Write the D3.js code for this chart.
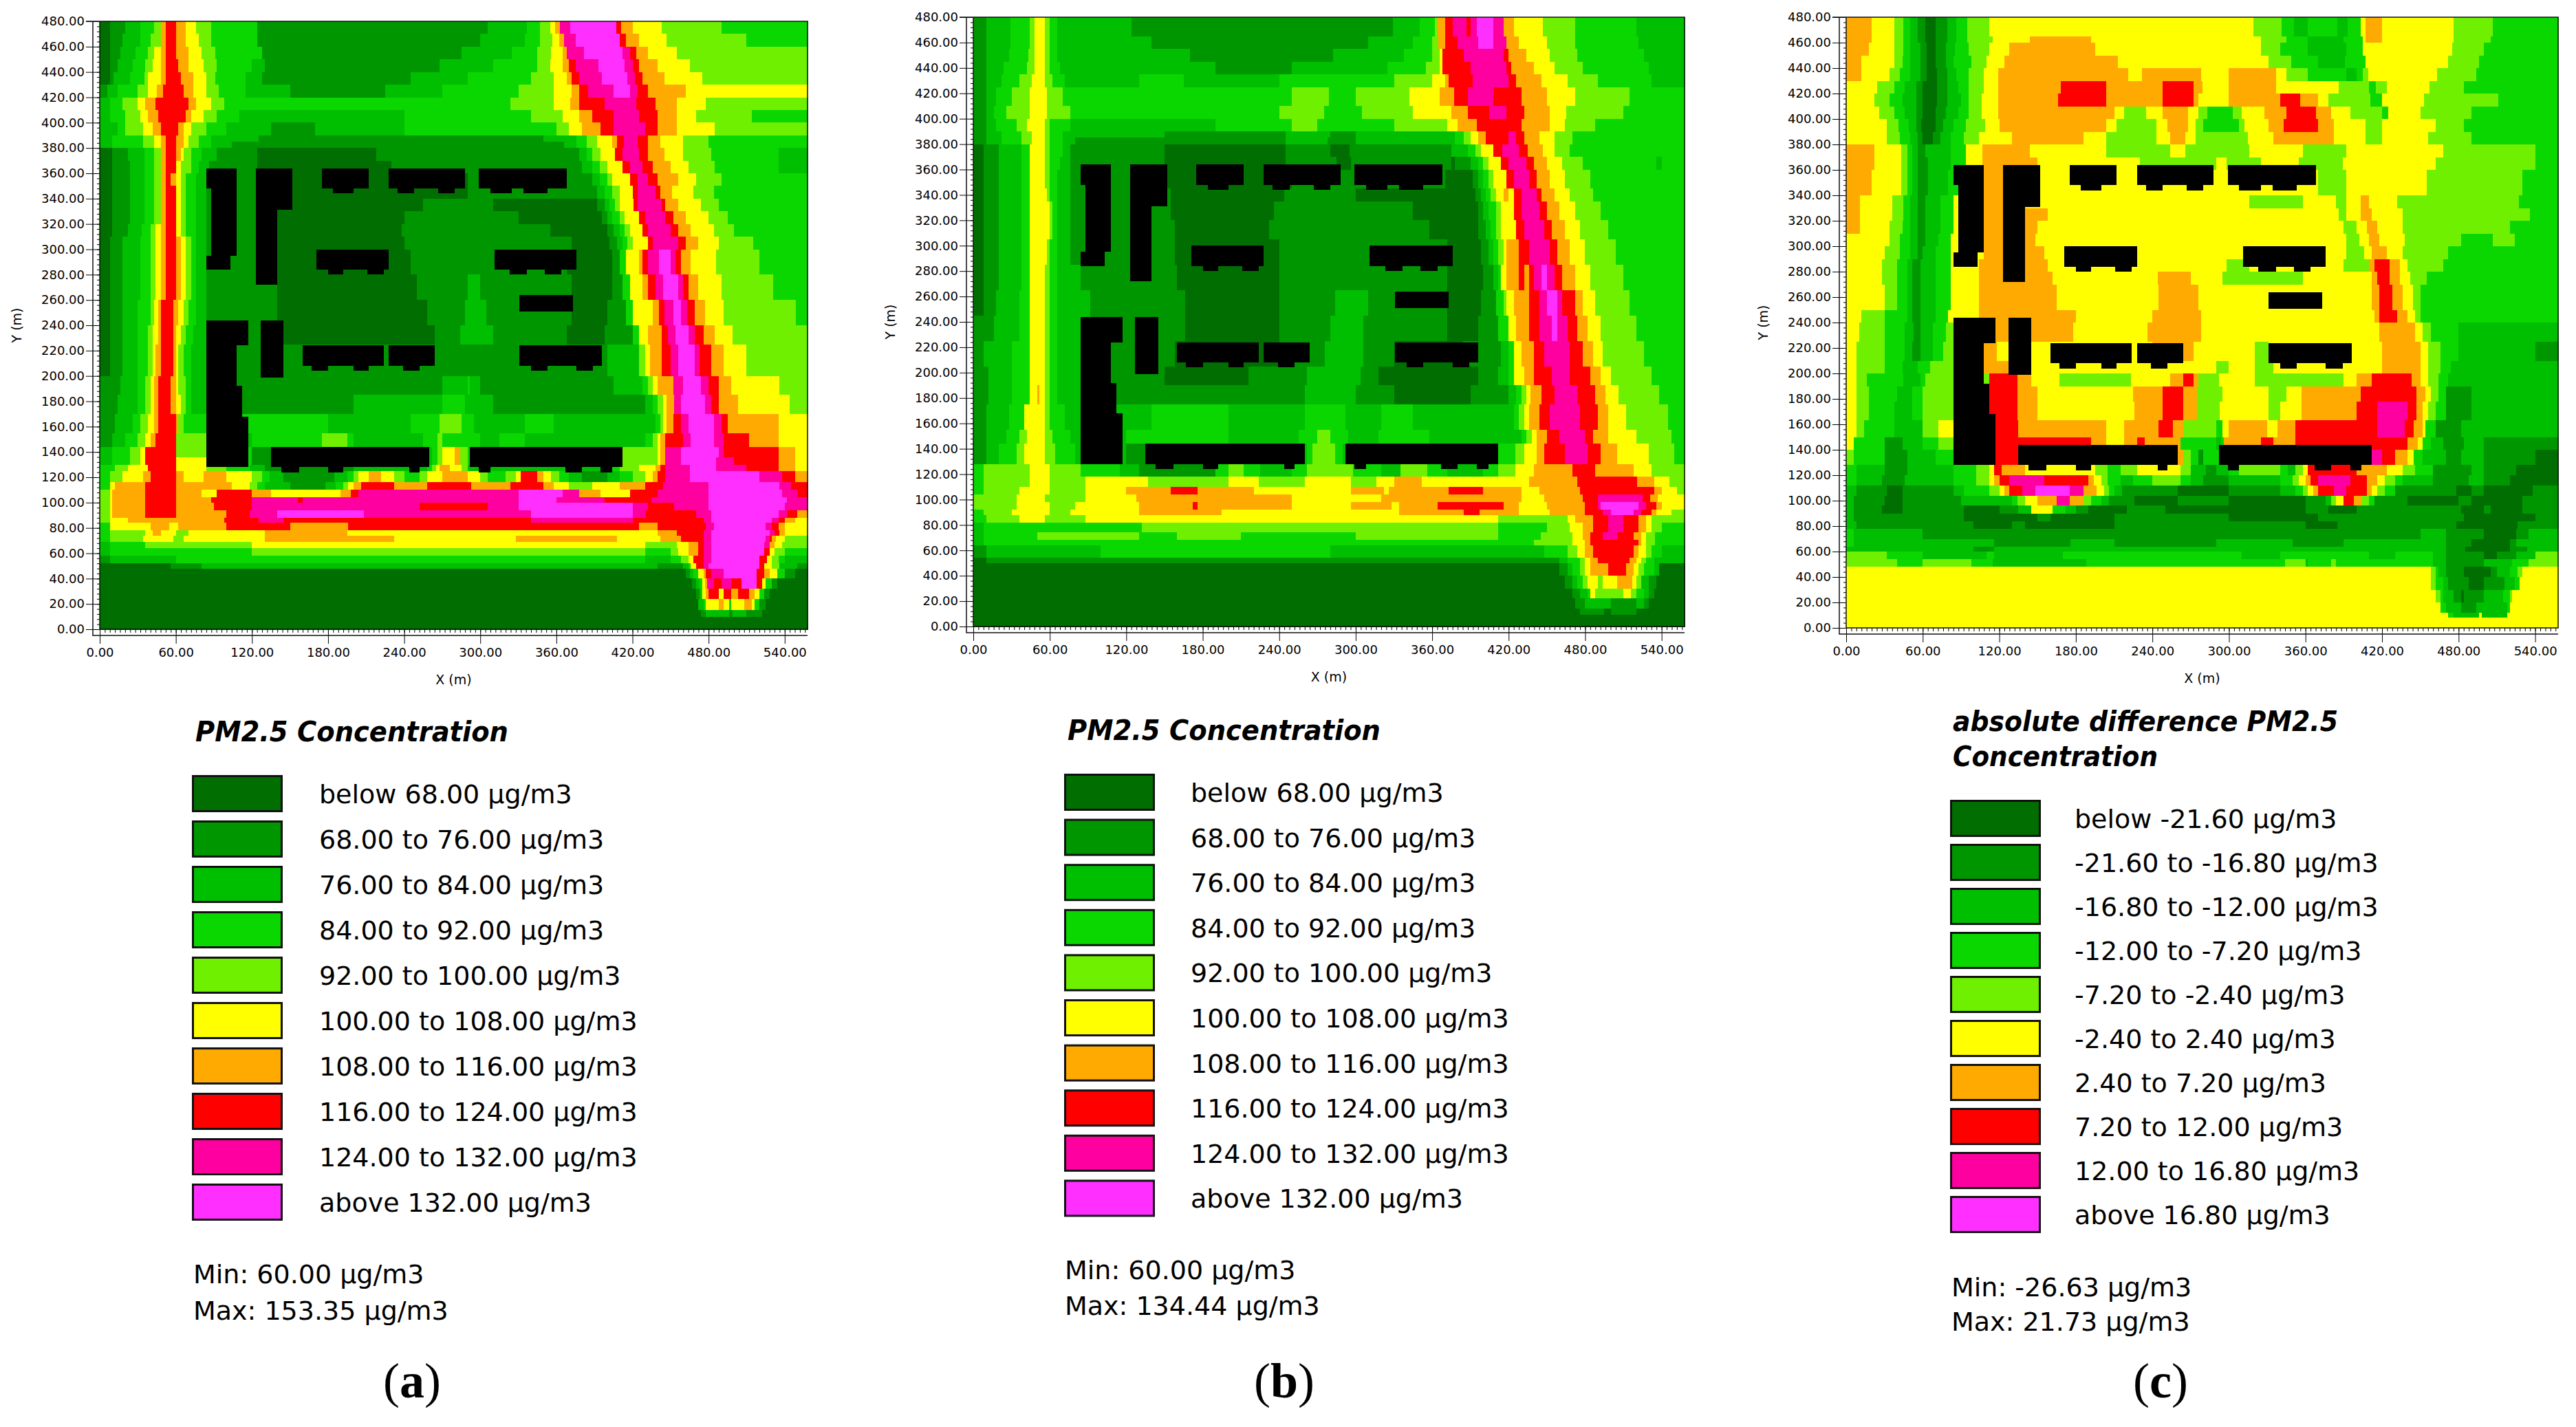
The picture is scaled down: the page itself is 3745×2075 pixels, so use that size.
<!DOCTYPE html>
<html>
<head>
<meta charset="utf-8">
<script src="https://cdn.jsdelivr.net/npm/d3@7"></script>
<style>
body { margin: 0; background: #fff; }
text { font-family: "DejaVu Sans", sans-serif; fill: #000; }
</style>
</head>
<body>
<svg id="chart" width="3745" height="2075"></svg>
<script>
var levelColors = ["#006e00", "#009600", "#00be00", "#0ad700", "#6ef000", "#ffff00", "#ffaa00", "#ff0000", "#ff00a0", "#ff30ff"];

var legendAB = ["below 68.00 µg/m3", "68.00 to 76.00 µg/m3", "76.00 to 84.00 µg/m3", "84.00 to 92.00 µg/m3", "92.00 to 100.00 µg/m3", "100.00 to 108.00 µg/m3", "108.00 to 116.00 µg/m3", "116.00 to 124.00 µg/m3", "124.00 to 132.00 µg/m3", "above 132.00 µg/m3"];
var legendC = ["below -21.60 µg/m3", "-21.60 to -16.80 µg/m3", "-16.80 to -12.00 µg/m3", "-12.00 to -7.20 µg/m3", "-7.20 to -2.40 µg/m3", "-2.40 to 2.40 µg/m3", "2.40 to 7.20 µg/m3", "7.20 to 12.00 µg/m3", "12.00 to 16.80 µg/m3", "above 16.80 µg/m3"];

var xTicks = [0, 60, 120, 180, 240, 300, 360, 420, 480, 540];
var yTicks = d3.range(0, 481, 20);

// building footprints in metres: x from, x to, y top, y bottom
var buildings = [
  [84,108,364,348],[88,108,348,295],[84,103,295,284],
  [123,152,364,331],[123,140,331,272],
  [175,212,364,348],[184,200,348,344],
  [228,288,364,348],[235,248,348,344],[267,280,348,344],
  [299,368,364,348],[308,325,348,344],[334,353,348,344],
  [171,228,300,284],[180,192,284,280],[211,224,284,280],
  [311,376,300,284],[323,337,284,280],[351,364,284,280],
  [331,373,264,251],
  [84,117,244,224],[84,108,224,192],[84,112,192,168],[84,117,168,128],
  [127,145,244,199],
  [160,224,224,208],[167,180,208,204],[200,212,208,204],
  [228,264,224,208],[239,252,208,204],
  [331,396,224,208],[340,353,208,204],[376,389,208,204],
  [135,260,144,128],[143,157,128,124],[180,192,128,124],[244,252,128,124],
  [292,412,144,128],[299,308,128,124],[367,380,128,124],[395,404,128,124]
];

// each row: top of band in metres, then level:right end of run in metres
var rowsA = [
[480,"0:8 1:20 2:32 3:43 4:48 6:52 7:60 6:68 5:76 4:88 3:124 1:306 2:337 3:347 4:355 5:359 6:363 8:371 9:407 7:411 6:420 5:443 4:490 3:558"],
[470,"0:8 1:18 2:32 3:40 4:48 6:52 7:60 6:68 5:78 4:88 3:124 1:300 2:335 3:347 4:357 5:362 6:366 8:375 9:410 7:415 6:425 5:447 4:510 3:558"],
[460,"0:8 1:16 2:28 3:38 4:43 5:48 6:52 7:60 6:70 5:80 4:91 3:128 1:285 2:325 3:345 4:356 5:365 6:368 8:382 9:412 8:418 7:423 6:432 5:455 4:558"],
[450,"0:8 1:14 2:26 3:36 4:42 5:48 6:52 7:62 6:70 5:82 4:92 3:120 2:130 1:268 2:310 3:345 4:355 5:365 6:370 7:375 8:393 9:414 8:420 7:425 6:440 5:465 4:558"],
[440,"0:8 1:11 2:24 3:35 4:38 5:48 6:52 7:64 6:74 5:84 4:91 3:115 2:128 1:245 2:290 3:340 4:358 5:368 6:372 7:378 8:396 9:416 8:422 7:428 6:445 5:475 4:558"],
[430,"1:6 2:14 3:30 4:38 5:45 6:50 7:66 6:74 5:84 4:94 3:115 2:150 1:225 2:270 3:330 4:358 5:372 6:378 7:385 8:405 9:418 8:424 7:432 6:462 5:558"],
[420,"2:8 3:18 4:30 5:36 6:44 7:70 6:76 5:88 4:98 3:324 4:358 5:371 6:378 7:398 8:423 7:438 6:455 5:478 4:558"],
[410,"2:8 3:20 4:32 5:38 6:46 7:68 6:72 5:82 4:92 3:110 2:240 3:340 4:365 5:378 6:388 7:405 8:425 7:440 6:455 5:470 4:514 3:558"],
[400,"2:14 3:20 4:34 5:42 6:48 7:62 6:66 5:72 4:84 3:100 2:135 1:170 2:240 3:360 4:370 5:380 6:395 7:405 8:430 7:440 6:455 5:485 4:558"],
[390,"2:10 3:34 4:43 5:48 6:52 7:60 6:66 5:70 4:78 3:88 2:125 1:350 2:376 3:384 4:392 5:404 6:408 7:413 8:424 7:432 6:442 5:460 4:480 3:558"],
[385,"2:10 3:34 4:43 5:48 6:52 7:60 6:66 5:70 4:78 3:88 2:104 1:366 2:376 3:384 4:392 5:404 6:408 7:413 8:424 7:432 6:442 5:460 4:480 3:558"],
[380,"0:10 1:22 2:35 3:43 4:48 6:52 7:60 6:64 5:66 4:72 3:80 2:92 1:124 0:218 1:378 2:384 3:388 4:395 5:406 7:412 8:425 7:432 6:445 5:460 4:482 3:535 2:558"],
[370,"0:10 1:24 2:35 3:43 4:48 6:52 7:60 5:64 4:72 3:78 2:86 1:124 0:230 1:380 2:388 3:394 4:400 5:412 7:418 8:428 7:436 6:450 5:464 4:485 3:535 2:558"],
[360,"0:10 1:24 2:35 3:43 4:48 6:52 7:56 6:60 5:64 4:68 3:76 2:84 1:124 0:290 1:388 2:394 3:400 4:404 5:418 7:424 8:432 7:440 6:456 5:470 4:490 3:558"],
[350,"0:10 1:24 2:35 3:43 4:48 6:52 7:60 5:64 4:68 3:76 2:84 1:125 0:290 1:392 2:398 3:404 4:410 5:420 7:424 8:438 7:442 6:451 5:468 4:484 3:558"],
[340,"0:10 1:24 2:35 3:43 4:48 6:52 7:60 5:64 4:68 3:76 2:84 1:125 0:255 1:310 0:392 1:398 2:402 3:406 4:410 5:421 7:424 8:443 7:446 6:456 5:474 4:488 3:558"],
[330,"0:10 1:24 2:35 3:43 4:48 6:52 7:60 5:64 4:68 3:76 2:84 1:125 0:240 1:330 0:396 1:400 2:404 3:410 4:414 5:425 7:430 8:446 7:452 6:462 5:480 4:495 3:558"],
[320,"0:10 1:22 2:33 3:40 4:44 5:48 6:52 7:60 5:64 4:68 3:76 2:84 1:125 0:238 1:355 0:400 1:405 2:410 3:414 4:418 5:428 7:432 8:450 7:456 6:466 5:484 4:500 3:558"],
[310,"0:8 1:18 2:32 3:40 4:44 5:48 6:52 7:60 6:64 5:68 4:72 3:76 2:84 1:125 0:240 1:372 0:402 1:408 2:412 3:416 4:420 5:432 7:436 8:456 7:462 6:472 5:488 4:515 3:558"],
[300,"0:8 1:18 2:32 3:40 4:44 5:48 6:52 7:60 6:64 5:68 4:72 3:76 2:84 1:136 0:245 1:368 0:404 1:410 3:415 5:425 6:428 7:432 8:441 9:450 8:454 7:458 6:466 5:486 4:520 3:558"],
[280,"0:8 1:18 2:32 3:40 4:44 5:48 6:52 7:60 6:64 5:68 4:72 3:76 2:84 1:140 0:250 1:290 2:300 1:372 0:404 1:412 3:418 5:428 6:432 7:438 8:444 9:456 8:460 7:464 6:472 5:490 4:531 3:558"],
[260,"0:8 1:18 2:30 3:40 4:43 5:46 6:48 7:58 6:62 5:66 4:70 3:76 2:84 1:140 0:258 1:288 2:305 1:372 0:400 1:415 3:420 5:436 6:441 7:445 8:452 9:458 8:463 7:469 6:477 5:492 4:549 3:558"],
[240,"0:8 1:18 2:30 3:38 4:42 5:46 6:48 7:58 6:60 5:64 4:68 3:74 2:84 1:145 0:264 1:284 2:310 1:368 0:398 1:420 3:425 5:432 6:443 7:448 8:454 9:464 8:469 7:476 6:485 5:499 4:558"],
[225,"0:8 1:18 2:30 3:38 4:42 5:44 6:48 7:58 6:60 5:62 4:66 3:72 2:84 1:400 2:425 4:430 5:434 6:443 7:450 8:456 9:469 8:473 7:482 6:492 5:510 4:558"],
[200,"1:16 2:30 3:36 4:40 5:43 6:46 7:56 6:60 5:62 4:68 3:72 2:84 1:270 2:290 3:292 2:300 1:405 2:428 3:432 4:436 5:440 6:452 8:460 9:474 8:480 7:488 6:498 5:536 4:558"],
[185,"1:14 2:30 3:36 4:40 5:43 6:46 7:56 6:60 5:64 4:68 3:72 2:84 1:200 2:270 3:288 2:310 1:430 2:436 3:440 4:444 5:447 6:453 8:458 9:477 8:482 7:488 6:503 5:544 4:558"],
[170,"1:12 2:26 3:32 4:38 5:43 6:46 7:60 6:62 4:66 3:84 2:112 3:180 2:245 3:268 4:285 3:295 2:335 3:358 2:438 3:442 4:444 5:447 6:452 7:458 8:464 9:484 8:490 7:495 6:535 5:558"],
[155,"1:10 2:20 3:30 4:36 5:40 6:44 7:60 4:84 3:100 2:120 3:175 4:195 3:200 2:255 3:266 4:270 3:300 2:315 3:335 2:430 3:436 4:440 5:442 6:446 7:460 8:466 9:484 8:492 7:512 6:535 5:558"],
[144,"2:10 3:24 4:32 5:36 7:60 4:84 3:120 1:135 2:262 3:266 4:270 5:280 6:284 4:290 3:412 4:440 5:442 6:446 8:458 9:488 8:492 7:535 6:548 5:558"],
[136,"2:10 3:24 4:32 5:36 7:60 5:84 3:120 1:135 2:262 3:266 4:270 5:280 6:284 4:290 3:412 4:440 5:442 6:446 8:458 9:486 8:500 7:535 6:548 5:558"],
[130,"3:12 4:22 5:38 7:60 5:84 4:100 3:118 2:130 1:200 2:258 3:262 4:265 5:268 6:276 5:285 4:290 2:395 3:410 4:425 5:438 6:442 7:446 8:465 9:486 8:510 7:535 6:548 5:558"],
[125,"3:8 4:18 5:34 6:40 7:60 6:66 5:82 6:100 5:120 4:128 3:134 2:145 1:185 2:195 3:200 4:204 5:212 6:222 5:232 4:240 3:252 4:258 5:270 6:290 5:300 4:306 3:320 4:328 5:332 7:345 6:350 5:356 4:362 3:370 2:380 1:400 2:410 3:420 4:430 5:436 6:440 7:446 8:465 9:520 8:538 7:548 6:558"],
[116,"3:8 5:12 6:36 7:60 6:104 5:118 4:124 3:130 2:150 1:178 2:186 3:192 4:196 5:200 6:206 7:232 6:258 7:293 6:324 7:350 6:358 5:370 4:388 5:410 6:430 7:444 8:480 9:536 8:545 7:558"],
[110,"4:8 5:10 6:36 7:60 6:80 5:92 7:120 6:135 5:190 6:198 7:204 8:330 9:365 8:378 6:395 5:418 7:440 8:480 9:538 8:550 7:558"],
[104,"4:8 5:10 6:36 7:60 6:88 7:120 8:156 7:160 8:330 9:360 8:398 7:435 8:480 9:542 8:558"],
[100,"4:8 5:10 6:36 7:60 6:90 7:120 8:252 7:306 8:330 9:420 8:432 7:453 8:480 9:540 8:558"],
[94,"4:8 5:10 6:36 7:60 6:100 7:118 8:140 9:208 8:340 9:420 8:430 7:470 8:482 9:535 8:542 7:550 6:558"],
[88,"4:8 5:22 6:98 7:125 8:145 7:340 8:420 7:476 8:482 9:530 8:535 7:540 6:548 5:558"],
[84,"3:8 5:40 6:55 5:62 6:100 7:150 6:196 7:425 6:440 7:478 8:484 9:525 8:530 7:535 6:540 5:558"],
[78,"3:8 4:36 5:42 6:48 5:60 4:70 5:130 6:195 5:440 6:455 7:476 8:482 9:528 8:532 7:536 6:540 5:558"],
[74,"3:8 4:34 5:58 4:66 5:130 6:232 5:328 6:408 5:442 6:458 7:476 8:482 9:525 8:528 7:530 6:533 5:540 4:558"],
[69,"2:8 3:36 4:120 5:430 4:455 5:464 6:472 7:476 8:482 9:524 8:528 6:532 5:538 4:558"],
[64,"2:8 3:120 4:430 3:450 4:456 5:464 6:472 7:476 8:482 9:524 7:528 5:532 4:540 3:558"],
[58,"1:8 2:60 3:430 2:450 3:458 4:464 5:468 7:476 8:482 9:520 7:526 5:530 4:535 3:540 2:558"],
[52,"0:56 1:80 2:440 1:460 2:464 3:466 5:470 7:476 8:480 9:520 7:524 5:530 4:536 2:550 1:558"],
[48,"0:462 1:465 2:468 3:472 5:476 6:478 7:482 8:492 9:518 7:524 6:528 5:534 3:540 1:548 0:558"],
[40,"0:467 1:470 2:473 3:475 5:477 6:479 8:484 7:490 8:498 7:506 9:518 7:522 5:525 3:530 1:534 0:558"],
[32,"0:470 1:473 2:474 3:475 5:478 6:480 7:488 5:492 7:498 6:503 7:512 6:516 5:520 3:524 1:528 0:558"],
[24,"0:472 2:476 3:478 5:488 6:492 5:496 3:498 5:508 6:514 5:516 3:520 1:525 0:558"],
[15,"0:474 1:478 2:496 1:499 2:510 1:522 0:558"],
[10,"0:558"]
];

var rowsB = [
[480,"1:10 2:29 3:44 4:48 5:56 4:60 3:66 2:124 1:329 2:350 3:362 4:364 6:370 7:376 8:387 7:390 8:395 9:408 8:416 6:424 5:447 4:472 3:520 2:558"],
[465,"1:10 2:29 3:44 4:48 5:56 4:60 3:66 2:140 1:310 2:345 3:360 4:365 6:370 7:380 8:396 9:408 8:418 6:428 5:450 4:472 3:522 2:558"],
[455,"1:10 2:28 3:43 4:48 5:56 4:60 3:66 2:170 1:282 2:338 3:360 4:366 5:368 7:385 8:416 7:420 6:434 5:452 4:474 3:526 2:558"],
[445,"1:10 2:24 3:42 4:48 5:56 4:60 3:68 2:190 1:250 2:325 3:355 4:366 5:368 7:390 8:418 7:422 6:440 5:456 4:478 3:530 2:558"],
[435,"1:10 2:22 3:36 4:46 5:56 4:62 3:72 2:130 3:165 2:240 3:330 4:360 5:370 6:373 7:392 8:420 7:426 6:446 5:466 4:490 3:532 2:558"],
[425,"1:10 2:18 3:30 4:44 5:58 4:70 3:250 4:279 3:300 4:342 5:366 6:377 7:388 8:408 7:430 6:450 5:472 4:515 3:558"],
[410,"1:10 2:16 3:26 4:44 5:58 4:76 3:240 4:275 3:305 4:345 5:375 6:388 7:405 8:418 7:432 6:452 5:465 4:510 3:558"],
[400,"1:10 2:18 3:34 4:42 5:56 4:60 3:76 2:190 3:250 4:270 3:330 4:372 5:380 6:395 7:430 6:452 5:464 4:488 3:558"],
[390,"1:10 2:22 3:38 4:46 5:56 4:60 3:70 2:150 1:245 2:280 1:300 2:378 3:385 4:390 5:396 6:402 7:420 8:426 7:432 6:444 5:456 4:470 3:558"],
[385,"1:10 2:22 3:38 4:46 5:56 4:60 3:70 2:80 1:245 2:278 1:300 2:378 3:385 4:390 5:396 6:402 7:420 8:426 7:432 6:444 5:456 4:470 3:558"],
[380,"0:8 1:20 2:38 3:44 5:56 4:60 3:70 2:76 1:150 0:245 1:280 0:295 1:375 2:388 3:394 4:398 5:408 7:415 8:428 7:435 6:447 5:456 4:468 3:558"],
[370,"0:8 1:20 2:38 3:44 5:56 4:60 3:68 2:76 1:150 0:245 1:285 0:296 1:375 0:378 1:390 2:396 3:400 4:404 5:414 7:420 8:434 7:440 6:450 5:462 4:478 3:536 2:540 3:558"],
[360,"0:8 1:20 2:38 3:44 5:56 4:60 3:66 2:76 1:152 0:250 1:370 0:392 1:396 2:400 3:404 4:408 5:418 7:424 8:436 7:442 6:452 5:464 4:484 3:558"],
[345,"0:8 1:20 2:38 3:44 5:58 4:60 3:66 2:76 1:155 0:244 1:300 0:394 1:398 2:402 3:406 4:410 5:416 6:420 5:424 7:430 8:442 7:446 6:456 5:468 4:486 3:558"],
[335,"0:8 1:20 2:38 3:44 5:60 4:62 3:66 2:76 1:155 0:236 1:345 0:396 1:400 2:404 3:410 4:414 5:424 7:430 8:444 7:450 6:460 5:472 4:492 3:558"],
[320,"0:8 1:20 2:38 3:44 5:60 4:62 3:66 2:76 1:158 0:232 1:358 0:396 1:402 2:406 3:410 4:414 5:426 7:432 8:448 7:454 6:464 5:476 4:498 3:558"],
[305,"0:8 1:20 2:38 3:44 5:58 4:60 3:66 2:76 1:158 0:240 1:372 0:398 1:404 2:408 3:412 4:416 5:418 6:428 7:436 8:452 7:458 6:468 5:480 4:504 3:558"],
[285,"0:8 1:20 2:38 3:44 5:56 4:60 3:66 2:84 1:160 0:240 1:372 0:400 1:408 2:412 3:414 5:418 6:428 7:432 6:436 7:440 8:446 9:450 8:456 7:462 6:472 5:484 4:510 3:558"],
[265,"0:8 1:18 2:36 3:44 5:56 4:60 3:66 2:92 1:166 0:240 1:284 2:310 1:372 0:398 1:410 3:416 4:418 5:424 6:436 7:444 8:450 9:458 8:462 7:472 6:478 5:488 4:515 3:558"],
[245,"1:16 2:36 3:44 5:56 4:60 3:66 2:92 1:166 0:240 1:280 2:306 1:372 0:396 1:412 3:420 5:426 6:436 7:444 8:454 9:458 8:466 7:474 6:482 5:492 4:520 3:558"],
[225,"1:8 2:30 3:44 5:56 4:60 3:66 2:84 1:158 0:240 1:276 2:306 1:330 0:384 1:414 2:420 3:424 5:430 6:440 7:448 8:468 7:478 6:486 5:494 4:526 3:558"],
[205,"1:12 2:30 3:44 5:56 4:60 3:66 2:84 1:150 0:216 1:262 2:304 1:318 0:396 1:412 2:420 3:424 5:432 6:440 7:454 8:468 7:484 6:492 5:500 4:532 3:558"],
[190,"1:12 2:30 3:44 5:50 6:52 5:56 4:60 3:66 2:110 1:260 2:300 1:330 0:390 1:420 2:426 3:430 4:434 5:437 6:446 7:456 8:474 7:488 6:496 5:506 4:538 3:558"],
[175,"1:10 2:28 3:40 5:56 4:60 3:72 2:140 3:200 2:260 3:292 2:320 3:345 2:424 3:428 4:432 5:436 6:444 7:452 8:476 7:490 6:498 5:512 4:545 3:558"],
[155,"1:10 2:26 3:36 4:42 5:56 4:62 3:76 2:120 3:200 2:255 3:270 4:280 3:294 2:318 3:358 2:430 3:434 4:438 5:442 6:450 7:460 8:480 7:486 6:498 5:520 4:548 3:558"],
[144,"1:10 2:20 3:34 4:40 5:56 4:64 3:80 2:120 1:136 2:262 3:266 4:284 3:290 2:412 3:425 4:432 5:442 6:448 7:464 8:482 7:492 6:505 5:530 4:550 3:558"],
[128,"3:8 4:44 5:60 4:84 3:115 2:130 1:190 3:200 4:212 3:225 2:250 3:262 4:298 3:320 2:335 4:356 3:372 2:400 3:412 4:425 5:440 6:470 7:488 6:518 5:532 4:558"],
[118,"3:8 4:44 5:60 4:88 5:137 4:200 5:224 4:260 5:296 4:316 5:330 6:352 5:436 6:474 7:521 6:534 5:546 4:558"],
[110,"3:8 4:36 5:60 4:88 5:120 6:155 7:176 6:220 5:296 6:322 5:326 6:373 7:400 6:430 5:444 6:476 7:534 6:540 5:552 4:558"],
[104,"4:34 5:56 4:88 5:128 6:250 5:320 6:430 5:448 6:478 7:490 8:525 7:531 6:537 5:558"],
[98,"4:34 5:60 4:80 5:130 6:172 7:176 6:250 5:296 6:328 5:334 6:364 7:416 6:428 5:450 6:480 7:490 8:492 9:522 8:528 7:536 6:540 5:558"],
[92,"3:8 4:30 5:60 4:76 5:130 6:195 5:334 6:385 7:397 6:428 5:452 6:480 7:494 8:500 9:518 8:524 7:532 6:536 5:548 4:558"],
[88,"3:10 4:36 5:56 4:88 5:412 4:466 5:472 6:486 7:498 8:510 7:522 6:528 5:532 4:558"],
[82,"2:8 3:132 4:412 3:450 4:468 5:478 6:486 7:498 8:510 7:522 6:528 5:532 4:540 3:558"],
[74,"2:8 3:50 4:130 3:160 4:210 3:300 4:412 3:445 4:470 5:478 6:484 7:494 8:505 7:518 6:524 5:528 4:535 3:558"],
[68,"2:8 3:440 4:470 5:480 6:484 7:522 6:524 5:528 4:535 3:558"],
[64,"1:10 2:100 3:280 2:448 3:466 4:474 5:480 6:486 7:518 6:522 5:528 4:532 3:540 2:558"],
[54,"0:10 1:460 2:466 3:476 4:480 5:484 6:490 7:515 6:520 5:524 4:528 3:534 2:558"],
[50,"0:460 1:466 2:470 3:476 4:480 5:484 6:498 7:512 6:518 5:522 4:526 3:534 2:538 0:558"],
[40,"0:464 1:470 2:474 3:478 4:482 5:490 4:494 5:505 6:517 5:520 4:524 2:530 1:536 0:558"],
[30,"0:470 1:476 2:482 3:484 5:488 4:510 5:516 4:520 3:526 2:530 1:534 0:558"],
[22,"0:472 1:480 2:500 1:520 2:526 1:530 0:558"],
[14,"0:476 1:495 0:500 1:520 0:558"],
[9,"0:558"]
];

var rowsC = [
[480,"6:20 5:38 4:45 3:50 2:56 1:62 0:70 1:79 2:86 3:95 4:112 5:319 4:341 3:351 2:362 3:385 2:393 3:403 5:407 6:420 5:476 4:507 3:558"],
[465,"6:20 5:38 4:45 3:50 2:56 1:62 0:70 1:79 2:86 3:95 4:115 5:144 6:192 5:325 4:345 3:362 2:390 3:405 5:407 6:420 5:476 4:505 3:558"],
[460,"6:18 5:38 4:45 3:50 2:58 1:63 0:70 1:78 2:85 3:96 4:112 5:128 6:195 5:325 4:340 3:362 2:392 3:405 5:475 4:500 3:558"],
[450,"6:12 5:38 4:44 3:50 2:58 1:63 0:70 1:78 2:84 3:98 4:110 5:124 6:213 5:331 4:349 3:370 2:391 3:407 5:472 4:496 3:558"],
[440,"6:12 5:34 4:42 3:50 2:58 1:63 0:71 1:79 2:86 3:96 4:108 5:119 6:221 5:232 6:278 5:300 6:337 5:345 4:362 3:392 2:400 3:405 4:409 5:463 4:494 3:558"],
[430,"5:24 4:38 3:46 2:55 1:60 0:71 1:79 2:88 3:96 4:108 5:119 6:168 7:204 6:248 7:272 6:279 5:300 6:337 5:386 4:410 3:415 4:424 5:457 4:484 3:558"],
[420,"5:22 4:34 3:44 2:55 1:60 0:71 1:79 2:90 3:96 4:106 5:119 6:166 7:204 6:248 7:272 6:276 5:300 6:340 7:356 6:370 5:378 4:411 3:420 5:453 4:511 3:558"],
[410,"5:26 4:38 3:46 2:55 1:60 0:70 1:78 2:88 3:96 4:106 5:119 6:210 5:218 4:235 5:248 6:268 5:276 4:283 3:303 4:310 5:328 6:345 7:368 6:380 5:395 4:420 3:425 5:450 4:490 3:558"],
[400,"5:32 4:41 3:49 2:55 1:59 0:70 1:76 2:84 3:94 4:109 5:120 6:204 5:212 4:243 5:252 6:268 5:274 4:280 3:308 4:312 5:331 6:343 7:370 6:382 5:407 4:420 5:462 4:484 3:558"],
[390,"5:32 4:42 3:50 2:56 1:60 0:68 1:74 2:82 3:92 4:104 5:130 6:186 5:204 4:243 5:254 6:266 5:274 4:315 5:335 6:382 5:407 4:420 5:456 4:490 3:558"],
[380,"6:22 5:43 4:48 3:52 2:56 1:62 2:82 3:94 5:107 6:144 5:204 4:254 5:266 4:316 5:358 4:392 5:468 4:540 3:558"],
[370,"6:22 5:43 4:48 3:52 2:56 1:64 2:82 3:94 5:107 6:150 5:230 4:290 5:298 4:325 5:355 4:389 5:462 4:540 3:558"],
[360,"6:20 5:43 4:48 3:52 2:56 1:64 2:80 3:88 5:107 6:123 5:370 4:392 5:455 4:530 3:558"],
[340,"6:11 5:36 4:45 3:50 2:56 1:62 2:74 3:84 5:108 6:123 5:316 4:358 5:384 4:392 5:403 6:410 5:432 4:527 3:558"],
[330,"6:11 5:36 4:45 3:50 2:56 1:62 2:74 3:84 5:108 6:158 5:386 4:392 5:403 6:412 5:436 4:536 3:558"],
[320,"6:11 5:34 4:44 3:50 2:56 1:62 2:74 3:84 5:108 6:150 5:390 4:400 5:408 6:416 5:436 4:520 3:558"],
[310,"5:34 4:42 3:50 2:56 1:62 2:72 3:82 5:108 6:148 5:392 4:402 5:410 6:418 5:438 4:482 3:507 4:524 3:558"],
[300,"5:30 4:42 3:50 2:56 1:60 2:70 3:82 5:108 6:155 5:392 4:406 5:412 6:424 5:436 4:472 3:558"],
[290,"5:28 4:40 3:48 2:52 1:58 2:70 3:82 5:104 6:158 5:298 4:316 5:390 4:410 6:414 7:426 6:434 5:440 4:468 3:558"],
[280,"5:28 4:40 3:48 2:52 1:58 2:70 3:82 5:104 6:162 5:244 6:270 5:295 4:358 5:412 6:416 7:426 6:434 5:442 4:455 3:558"],
[270,"5:30 4:40 3:48 2:52 1:58 2:70 3:82 5:104 6:165 5:245 6:276 5:412 6:418 7:428 6:436 5:444 4:450 3:558"],
[250,"5:12 4:30 3:48 2:52 1:58 2:70 3:80 5:104 6:180 5:240 6:278 5:414 6:418 7:432 6:440 5:446 4:450 3:558"],
[240,"5:10 4:30 3:46 2:53 1:58 2:68 3:78 4:84 6:178 5:236 6:278 5:418 6:446 5:452 4:458 3:480 2:558"],
[225,"5:8 4:30 3:46 2:52 1:58 2:68 3:76 4:84 6:118 5:240 6:272 5:320 4:331 5:420 6:450 5:456 4:466 3:480 2:540 1:558"],
[210,"5:8 4:30 3:44 2:56 3:66 4:84 6:127 5:290 4:300 5:320 4:335 5:420 6:450 5:456 4:466 3:474 2:558"],
[200,"5:8 4:16 3:45 2:58 3:62 4:112 7:134 6:145 5:167 4:223 5:254 6:264 7:272 6:276 4:292 5:320 4:390 5:400 6:412 7:443 6:450 5:456 4:464 3:472 2:558"],
[190,"5:8 4:18 3:40 2:52 3:60 4:112 7:134 6:150 5:225 6:248 7:264 6:275 4:295 5:331 4:345 5:357 6:403 7:447 6:454 5:458 4:464 3:470 1:490 2:558"],
[178,"5:8 4:18 3:38 2:52 3:60 4:112 7:134 6:150 5:226 6:248 7:264 6:275 4:293 5:331 4:340 5:357 6:400 7:416 8:440 7:447 6:452 5:456 4:462 3:470 1:490 2:558"],
[163,"5:8 4:14 3:38 2:60 4:72 5:112 7:135 6:204 5:218 6:245 7:256 6:264 4:290 3:295 5:300 6:330 5:338 6:352 7:416 8:438 7:445 6:452 5:454 3:462 1:482 2:558"],
[150,"5:6 3:30 1:44 2:60 3:72 4:112 7:192 6:204 5:218 6:228 7:234 6:262 3:290 2:294 3:296 6:325 7:335 6:352 7:440 6:448 5:452 3:458 2:468 1:484 2:500 1:558"],
[140,"4:6 3:30 1:48 2:70 3:112 7:135 6:264 4:270 3:276 1:280 3:292 7:412 8:420 7:430 6:440 5:445 3:452 2:470 1:482 2:500 1:540 0:558"],
[128,"3:8 2:30 1:48 2:84 3:102 4:112 5:116 7:122 6:140 5:195 4:205 3:215 4:228 5:262 4:270 2:282 1:290 2:300 3:308 4:340 3:346 2:352 4:358 5:362 7:400 6:424 5:436 4:446 3:460 1:490 2:500 1:525 0:558"],
[120,"3:8 2:28 1:46 2:84 3:102 4:112 5:116 6:120 7:128 8:155 7:190 6:194 5:200 4:205 3:215 2:225 3:240 4:262 3:270 2:280 1:300 2:340 3:350 4:355 5:360 6:364 7:370 8:395 7:408 6:416 5:422 4:430 3:436 2:460 1:488 2:500 1:520 0:558"],
[112,"2:8 1:32 0:44 1:84 2:92 3:112 4:120 5:124 6:128 7:138 8:148 9:175 8:186 6:196 5:202 4:206 3:210 2:216 1:260 0:300 1:340 2:352 3:358 4:362 5:366 6:370 7:382 8:392 7:408 6:412 5:416 4:422 3:430 1:478 0:490 1:500 0:538 1:558"],
[104,"2:6 1:30 0:44 1:90 2:130 3:134 4:140 5:150 6:165 8:175 6:186 4:192 3:200 2:206 1:226 0:260 1:300 0:360 1:376 2:380 4:384 5:390 7:398 6:404 4:410 3:414 1:440 0:480 1:490 0:530 1:558"],
[96,"2:6 1:28 0:44 1:92 0:120 1:135 2:145 5:162 3:172 2:180 1:190 0:220 1:250 0:360 1:378 0:400 1:482 0:500 1:505 0:530 1:558"],
[90,"2:6 1:92 0:150 1:160 0:210 1:300 0:370 1:484 0:540 1:558"],
[84,"2:8 1:100 0:130 1:140 0:210 1:360 0:385 1:478 0:526 1:558"],
[78,"3:6 2:60 1:450 2:470 1:500 0:525 1:535 2:558"],
[70,"3:6 2:116 1:176 2:210 1:290 2:350 1:390 2:470 1:490 0:520 1:525 2:558"],
[64,"2:100 1:116 2:470 1:485 0:520 1:534 2:558"],
[60,"4:32 3:60 2:110 3:116 2:170 3:310 2:340 3:410 2:430 3:460 2:470 1:500 0:510 1:525 2:540 4:558"],
[54,"4:40 3:60 4:98 3:115 2:188 3:344 4:360 2:362 3:380 4:384 3:460 2:470 1:500 2:522 3:535 4:558"],
[48,"5:458 4:462 3:464 2:470 1:484 0:505 1:510 2:520 3:526 4:530 5:558"],
[40,"5:458 4:462 3:468 2:472 1:488 0:500 1:516 2:524 3:528 5:558"],
[30,"5:462 4:466 3:468 2:476 1:482 0:484 1:500 2:515 3:520 4:522 5:558"],
[20,"5:466 3:470 2:482 1:494 2:518 3:520 5:558"],
[12,"5:472 3:476 2:496 5:498 2:518 5:558"],
[8,"5:558"]
];

// page layout of the three panels
var panels = [
  { rows: rowsA, x0: 145, xEnd: 1174, yTop: 31, yBot: 915, legend: legendAB, title: ["PM2.5 Concentration"], titleX: 284, titleY: 1064, swatchX: 279, swatchY: 1127, step: 66, textX: 464, minmaxX: 281, minY: 1866, maxY: 1919, min: "Min: 60.00 µg/m3", max: "Max: 153.35 µg/m3", tag: "a", tagX: 599 },
  { rows: rowsB, x0: 1415, xEnd: 2449, yTop: 25, yBot: 911, legend: legendAB, title: ["PM2.5 Concentration"], titleX: 1552, titleY: 1062, swatchX: 1547, swatchY: 1125, step: 65.6, textX: 1731, minmaxX: 1548, minY: 1860, maxY: 1912, min: "Min: 60.00 µg/m3", max: "Max: 134.44 µg/m3", tag: "b", tagX: 1867 },
  { rows: rowsC, x0: 2684, xEnd: 3719, yTop: 25, yBot: 913, legend: legendC, title: ["absolute difference PM2.5", "Concentration"], titleX: 2839, titleY: 1049, swatchX: 2835, swatchY: 1163, step: 64, textX: 3016, minmaxX: 2837, minY: 1885, maxY: 1935, min: "Min: -26.63 µg/m3", max: "Max: 21.73 µg/m3", tag: "c", tagX: 3141 }
];

var svg = d3.select("#chart");
var tickFormat = d3.format(".2f");

function parseRow(str) {
  return str.split(" ").map(function(d) {
    var p = d.split(":");
    return { level: +p[0], end: +p[1] };
  });
}

panels.forEach(function(p) {
  var x = d3.scaleLinear().domain([0, 558]).range([p.x0, p.xEnd]);
  var y = d3.scaleLinear().domain([0, 480]).range([p.yBot, p.yTop]);
  var color = d3.scaleOrdinal().domain(d3.range(10)).range(levelColors);
  var g = svg.append("g");

  // one rect per run per band
  p.rows.forEach(function(row, i) {
    var next = i + 1 < p.rows.length ? p.rows[i + 1][0] : 0;
    var prev = 0;
    var runs = parseRow(row[1]).map(function(r) {
      var out = { level: r.level, from: prev, to: r.end };
      prev = r.end;
      return out;
    });
    g.append("g").selectAll("rect").data(runs).enter().append("rect")
      .attr("x", function(d) { return x(d.from); })
      .attr("y", y(row[0]))
      .attr("width", function(d) { return x(d.to) - x(d.from) + 0.5; })
      .attr("height", y(next) - y(row[0]) + 0.5)
      .attr("fill", function(d) { return color(d.level); })
      .attr("shape-rendering", "crispEdges");
  });

  g.append("g").selectAll("rect").data(buildings).enter().append("rect")
    .attr("x", function(d) { return x(d[0]); })
    .attr("y", function(d) { return y(d[2]); })
    .attr("width", function(d) { return x(d[1]) - x(d[0]); })
    .attr("height", function(d) { return y(d[3]) - y(d[2]); })
    .attr("fill", "#000")
    .attr("shape-rendering", "crispEdges");

  // minor ticks
  g.append("g").attr("transform", "translate(" + p.x0 + ",0)")
    .call(d3.axisLeft(y).tickValues(d3.range(0, 481, 4)).tickSize(4).tickFormat(""))
    .call(function(a) { a.select(".domain").remove(); });
  g.append("g").attr("transform", "translate(0," + p.yBot + ")")
    .call(d3.axisBottom(x).tickValues(d3.range(0, 557, 4)).tickSize(5).tickFormat(""))
    .call(function(a) { a.select(".domain").remove(); });

  // major ticks and labels
  var yAxis = g.append("g").attr("transform", "translate(" + p.x0 + ",0)")
    .call(d3.axisLeft(y).tickValues(yTicks).tickSize(20).tickPadding(2).tickFormat(tickFormat));
  yAxis.select(".domain").remove();
  yAxis.selectAll("text").attr("font-size", 18);
  var xAxis = g.append("g").attr("transform", "translate(0," + p.yBot + ")")
    .call(d3.axisBottom(x).tickValues(xTicks).tickSize(21).tickPadding(6).tickFormat(tickFormat));
  xAxis.select(".domain").remove();
  xAxis.selectAll("text").attr("font-size", 18);

  // frame
  g.append("path")
    .attr("d", "M" + (p.x0 - 20) + "," + p.yTop + "H" + p.xEnd + "V" + p.yBot + "H" + p.x0 + "V" + p.yTop)
    .attr("fill", "none").attr("stroke", "#111").attr("stroke-width", 1.5);
  g.append("path")
    .attr("d", "M" + (p.x0 - 10) + "," + p.yTop + "V" + (p.yBot + 9) + "H" + p.xEnd)
    .attr("fill", "none").attr("stroke", "#111").attr("stroke-width", 1.5);

  g.append("text").attr("x", (p.x0 + p.xEnd) / 2).attr("y", p.yBot + 80)
    .attr("text-anchor", "middle").attr("font-size", 19).text("X (m)");
  g.append("text")
    .attr("transform", "translate(" + (p.x0 - 114) + "," + ((p.yTop + p.yBot) / 2) + ") rotate(-90)")
    .attr("text-anchor", "middle").attr("font-size", 19).text("Y (m)");

  // legend
  p.title.forEach(function(t, i) {
    g.append("text").attr("x", p.titleX).attr("y", p.titleY + 14 + i * 51)
      .attr("font-size", 40).attr("font-weight", "bold").attr("font-style", "italic")
      .attr("textLength", t.length > 20 ? 560 : (t.length > 15 ? 455 : 298)).attr("lengthAdjust", "spacingAndGlyphs")
      .text(t);
  });
  var item = g.append("g").selectAll("g").data(p.legend).enter().append("g")
    .attr("transform", function(d, i) { return "translate(" + p.swatchX + "," + (p.swatchY + i * p.step) + ")"; });
  item.append("rect").attr("x", 1.5).attr("y", 1.5).attr("width", 129).attr("height", 51)
    .attr("fill", function(d, i) { return levelColors[i]; })
    .attr("stroke", "#111").attr("stroke-width", 3);
  item.append("text").attr("x", p.textX - p.swatchX).attr("y", 41)
    .attr("font-size", 38).text(function(d) { return d; });
  g.append("text").attr("x", p.minmaxX).attr("y", p.minY).attr("font-size", 38).text(p.min);
  g.append("text").attr("x", p.minmaxX).attr("y", p.maxY).attr("font-size", 38).text(p.max);

  var tag = g.append("text").attr("x", p.tagX).attr("y", 2032).attr("text-anchor", "middle")
    .attr("font-size", 72).style("font-family", "'Liberation Serif', serif");
  tag.append("tspan").text("(");
  tag.append("tspan").attr("font-weight", "bold").text(p.tag);
  tag.append("tspan").text(")");
});
</script>
</body>
</html>
